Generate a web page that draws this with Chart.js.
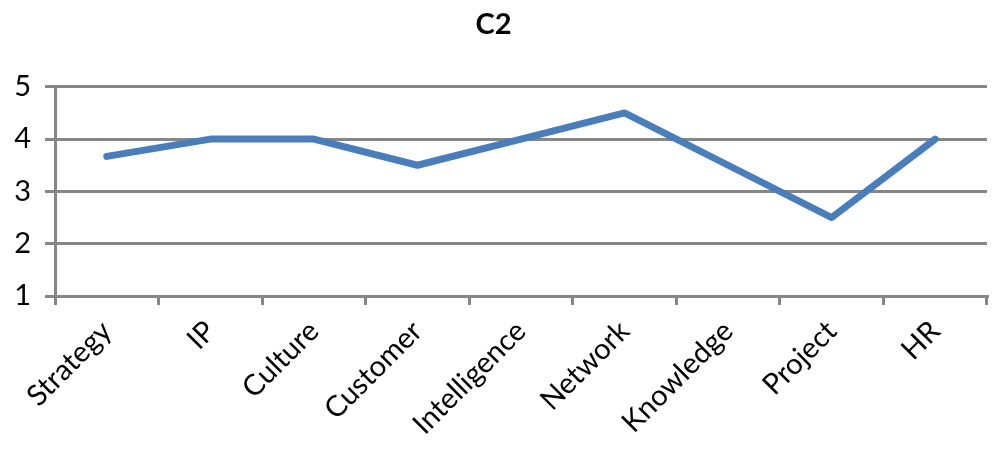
<!DOCTYPE html>
<html>
<head>
<meta charset="utf-8">
<script src="https://cdn.jsdelivr.net/npm/chart.js@4"></script>
<style>
  body { margin: 0; background: #fff; }
  #wrap { width: 1000px; height: 455px; }
</style>
</head>
<body>
<div id="wrap"><canvas id="c2Chart"></canvas></div>
<script>
const categories = ['Strategy', 'IP', 'Culture', 'Customer', 'Intelligence', 'Network', 'Knowledge', 'Project', 'HR'];
const c2Values = [3.67, 4, 4, 3.5, 4, 4.5, 3.5, 2.5, 4];
const yTicks = [1, 2, 3, 4, 5];

const gridColor = '#868686';
const lineColor = '#4a7ebb';

const ctx = document.getElementById('c2Chart');
new Chart(ctx, {
    type: 'line',
    data: {
        labels: categories,
        datasets: [{
            label: 'C2',
            data: c2Values,
            borderColor: lineColor,
            borderWidth: 7,
            borderCapStyle: 'round',
            borderJoinStyle: 'round',
            pointRadius: 0,
            tension: 0,
            fill: false
        }]
    },
    options: {
        responsive: true,
        maintainAspectRatio: false,
        animation: false,
        layout: { padding: { top: 0, right: 13, bottom: 0, left: 0 } },
        plugins: {
            legend: { display: false },
            tooltip: { enabled: false },
            title: {
                display: true,
                text: 'C2',
                color: '#000',
                font: { family: 'Lato', size: 29, weight: 'bold' },
                padding: { top: 7, bottom: 45 }
            }
        },
        scales: {
            x: {
                offset: true,
                grid: {
                    offset: true,
                    drawOnChartArea: false,
                    drawTicks: true,
                    tickLength: 9,
                    color: gridColor,
                    lineWidth: 3
                },
                border: { display: true, color: gridColor, width: 3 },
                ticks: {
                    autoSkip: false,
                    maxRotation: 45,
                    minRotation: 45,
                    color: '#000',
                    padding: 9,
                    font: { family: 'Lato', size: 29 }
                },
                afterFit: function(scale) { scale.height = 159; }
            },
            y: {
                min: 1,
                max: 5,
                afterBuildTicks: function(scale) {
                    scale.ticks = yTicks.map(function(v) { return { value: v }; });
                },
                grid: {
                    color: gridColor,
                    lineWidth: 3,
                    drawTicks: true,
                    tickLength: 10
                },
                border: { display: true, color: gridColor, width: 3 },
                ticks: {
                    color: '#000',
                    padding: 14,
                    font: { family: 'Lato', size: 29 }
                },
                afterFit: function(scale) { scale.width = 55; }
            }
        }
    }
});
</script>
</body>
</html>
